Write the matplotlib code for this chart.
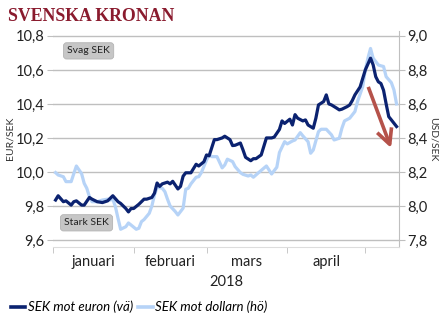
import matplotlib
matplotlib.use('Agg')

from datetime import datetime

import pandas as pd
import matplotlib.pyplot as plt
import matplotlib.dates as mdates
from matplotlib.patches import FancyArrowPatch
from matplotlib.ticker import FixedLocator, FuncFormatter

# SEK mot euron (vänster axel)
eur_dates = [
    '2018-01-02', '2018-01-03', '2018-01-05', '2018-01-06', '2018-01-08', '2018-01-09',
    '2018-01-10', '2018-01-12', '2018-01-13', '2018-01-15', '2018-01-16', '2018-01-18',
    '2018-01-20', '2018-01-22', '2018-01-24', '2018-01-26', '2018-01-27', '2018-01-29',
    '2018-01-30', '2018-01-31', '2018-02-01', '2018-02-03', '2018-02-05', '2018-02-06',
    '2018-02-08', '2018-02-09', '2018-02-10', '2018-02-11', '2018-02-12', '2018-02-14',
    '2018-02-15', '2018-02-16', '2018-02-18', '2018-02-19', '2018-02-20', '2018-02-21',
    '2018-02-23', '2018-02-24', '2018-02-25', '2018-02-26', '2018-02-28', '2018-03-01',
    '2018-03-02', '2018-03-04', '2018-03-05', '2018-03-07', '2018-03-08', '2018-03-10',
    '2018-03-11', '2018-03-12', '2018-03-14', '2018-03-15', '2018-03-16', '2018-03-18',
    '2018-03-19', '2018-03-20', '2018-03-22', '2018-03-23', '2018-03-24', '2018-03-26',
    '2018-03-27', '2018-03-29', '2018-03-30', '2018-03-31', '2018-04-02', '2018-04-03',
    '2018-04-04', '2018-04-05', '2018-04-07', '2018-04-08', '2018-04-09', '2018-04-11',
    '2018-04-12', '2018-04-13', '2018-04-15', '2018-04-16', '2018-04-17', '2018-04-18',
    '2018-04-20', '2018-04-21', '2018-04-22', '2018-04-24', '2018-04-25', '2018-04-26',
    '2018-04-27', '2018-04-29', '2018-04-30', '2018-05-01', '2018-05-03', '2018-05-04',
    '2018-05-05', '2018-05-06', '2018-05-07', '2018-05-08', '2018-05-09', '2018-05-10',
    '2018-05-11', '2018-05-13',
]
eur_sek = [
    9.835, 9.86, 9.825, 9.83, 9.805, 9.825,
    9.83, 9.805, 9.805, 9.85, 9.84, 9.825,
    9.82, 9.83, 9.86, 9.825, 9.815, 9.785,
    9.765, 9.785, 9.785, 9.81, 9.84, 9.84,
    9.85, 9.875, 9.935, 9.915, 9.93, 9.94,
    9.93, 9.945, 9.90, 9.915, 9.975, 9.995,
    9.995, 10.02, 10.045, 10.035, 10.06, 10.10,
    10.095, 10.19, 10.19, 10.20, 10.21, 10.19,
    10.155, 10.157, 10.17, 10.13, 10.086, 10.066,
    10.078, 10.078, 10.10, 10.15, 10.20, 10.20,
    10.205, 10.25, 10.30, 10.285, 10.31, 10.276,
    10.337, 10.316, 10.30, 10.306, 10.276, 10.257,
    10.316, 10.394, 10.414, 10.453, 10.40, 10.394,
    10.375, 10.365, 10.369, 10.384, 10.394, 10.42,
    10.453, 10.50, 10.55, 10.60, 10.669, 10.63,
    10.56, 10.53, 10.52, 10.48, 10.40, 10.325,
    10.306, 10.267,
]

# SEK mot dollarn (höger axel)
usd_dates = [
    '2018-01-02', '2018-01-03', '2018-01-05', '2018-01-06', '2018-01-08', '2018-01-09',
    '2018-01-10', '2018-01-12', '2018-01-13', '2018-01-14', '2018-01-15', '2018-01-16',
    '2018-01-18', '2018-01-20', '2018-01-22', '2018-01-23', '2018-01-24', '2018-01-25',
    '2018-01-26', '2018-01-27', '2018-01-29', '2018-01-30', '2018-01-31', '2018-02-02',
    '2018-02-03', '2018-02-04', '2018-02-05', '2018-02-07', '2018-02-08', '2018-02-09',
    '2018-02-10', '2018-02-12', '2018-02-13', '2018-02-14', '2018-02-15', '2018-02-17',
    '2018-02-18', '2018-02-20', '2018-02-21', '2018-02-22', '2018-02-23', '2018-02-25',
    '2018-02-26', '2018-02-27', '2018-03-01', '2018-03-02', '2018-03-03', '2018-03-05',
    '2018-03-07', '2018-03-08', '2018-03-09', '2018-03-11', '2018-03-12', '2018-03-14',
    '2018-03-15', '2018-03-17', '2018-03-18', '2018-03-19', '2018-03-21', '2018-03-23',
    '2018-03-24', '2018-03-26', '2018-03-28', '2018-03-29', '2018-03-31', '2018-04-01',
    '2018-04-03', '2018-04-04', '2018-04-06', '2018-04-07', '2018-04-09', '2018-04-10',
    '2018-04-11', '2018-04-13', '2018-04-14', '2018-04-16', '2018-04-18', '2018-04-19',
    '2018-04-21', '2018-04-22', '2018-04-23', '2018-04-25', '2018-04-27', '2018-04-28',
    '2018-04-30', '2018-05-01', '2018-05-02', '2018-05-03', '2018-05-04', '2018-05-06',
    '2018-05-07', '2018-05-08', '2018-05-09', '2018-05-11', '2018-05-12', '2018-05-13',
]
usd_sek = [
    8.196, 8.182, 8.172, 8.143, 8.143, 8.19,
    8.235, 8.19, 8.133, 8.104, 8.055, 8.025,
    8.025, 8.035, 8.04, 8.035, 8.04, 7.995,
    7.927, 7.863, 7.878, 7.90, 7.888, 7.863,
    7.869, 7.908, 7.92, 7.957, 8.00, 8.065,
    8.11, 8.104, 8.084, 8.04, 8.00, 7.967,
    7.947, 7.987, 8.098, 8.104, 8.13, 8.169,
    8.172, 8.196, 8.27, 8.30, 8.29, 8.29,
    8.224, 8.241, 8.275, 8.261, 8.231, 8.196,
    8.186, 8.176, 8.182, 8.169, 8.196, 8.222,
    8.235, 8.188, 8.228, 8.314, 8.378, 8.365,
    8.382, 8.388, 8.431, 8.412, 8.378, 8.31,
    8.329, 8.437, 8.451, 8.451, 8.418, 8.388,
    8.398, 8.457, 8.50, 8.516, 8.555, 8.614,
    8.702, 8.80, 8.869, 8.926, 8.869, 8.829,
    8.824, 8.82, 8.76, 8.725, 8.682, 8.60,
]

month_labels = ['januari', 'februari', 'mars', 'april']
month_starts = ['2018-01-01', '2018-02-01', '2018-03-01', '2018-04-01', '2018-05-01']
eur_ticks = [9.6, 9.8, 10.0, 10.2, 10.4, 10.6, 10.8]
usd_ticks = [7.8, 8.0, 8.2, 8.4, 8.6, 8.8, 9.0]

DARK = '#0B2270'
LIGHT = '#B6D3F7'
GRID = '#BFBFBF'
RED = '#B5524A'
TITLE = '#8A1B2E'
FONT = 'Lato'


def comma(v, _pos=None):
    return f'{v:.1f}'.replace('.', ',')


fig = plt.figure(figsize=(4.45, 3.27), dpi=100, facecolor='white')
ax = fig.add_axes([0.119, 0.2453, 0.778, 0.6606])
ax2 = ax.twinx()

# höger axel bär rutnätet, vänster axel ritas ovanpå
ax.set_zorder(ax2.get_zorder() + 1)
ax.patch.set_visible(False)

ax2.plot(pd.to_datetime(usd_dates), usd_sek, color=LIGHT, lw=2.3,
         solid_joinstyle='round', zorder=3)
ax.plot(pd.to_datetime(eur_dates), eur_sek, color=DARK, lw=2.3,
        solid_joinstyle='round', zorder=3)

x0, x1 = datetime(2018, 1, 1), datetime(2018, 5, 14)
ax.set_xlim(x0, x1)
ax.set_ylim(9.56, 10.83)
ax2.set_ylim(7.76, 9.03)

ax.yaxis.set_major_locator(FixedLocator(eur_ticks))
ax.yaxis.set_major_formatter(FuncFormatter(comma))
ax2.yaxis.set_major_locator(FixedLocator(usd_ticks))
ax2.yaxis.set_major_formatter(FuncFormatter(comma))
ax2.grid(axis='y', color=GRID, lw=1.0, zorder=0)
ax2.set_axisbelow(True)

# månadsgränser som små streck, namnen mitt i månaden
starts = pd.to_datetime(month_starts)
mids = [s + (e - s) / 2 for s, e in zip(starts[:-1], starts[1:])]
ax.set_xticks(mdates.date2num(mids))
ax.set_xticklabels(month_labels)
ax.set_xticks(mdates.date2num(starts), minor=True)
ax.tick_params(axis='x', which='major', length=0, pad=6)
ax.tick_params(axis='x', which='minor', length=4, color=GRID, direction='out')

for a in (ax, ax2):
    for side in ('top', 'left', 'bottom', 'right'):
        a.spines[side].set_visible(False)
    a.tick_params(axis='y', length=4, color=GRID, labelsize=10.5, pad=2,
                  labelcolor='#222222')
    for lbl in a.get_yticklabels():
        lbl.set_fontfamily(FONT)
ax2.spines['right'].set_visible(True)
ax2.spines['right'].set_color(GRID)
ax.spines['bottom'].set_visible(True)
ax.spines['bottom'].set_color('#DDDDDD')
for lbl in ax.get_xticklabels():
    lbl.set_fontfamily(FONT)
    lbl.set_fontsize(10.5)
    lbl.set_color('#222222')

ax.set_ylabel('EUR/SEK', fontsize=7.5, family=FONT, color='#333333', labelpad=1)
ax2.set_ylabel('USD/SEK', fontsize=7.5, family=FONT, color='#333333',
               rotation=270, labelpad=7)
ax.set_xlabel('2018', fontsize=10.5, family=FONT, color='#222222', labelpad=4)

# svag / stark krona
box = dict(boxstyle='round,pad=0.35,rounding_size=0.3', fc='#C6C6C6', ec='#B4B4B4', lw=0.6)
ax.text(0.103, 0.907, 'Svag SEK', transform=ax.transAxes, ha='center', va='center',
        fontsize=7.5, family=FONT, color='#222222', bbox=box)
ax.text(0.097, 0.111, 'Stark SEK', transform=ax.transAxes, ha='center', va='center',
        fontsize=7.5, family=FONT, color='#222222', bbox=box)

# pil som visar den senaste förstärkningen
arrow = FancyArrowPatch((mdates.date2num(datetime(2018, 5, 2, 3)), 10.50),
                        (mdates.date2num(datetime(2018, 5, 10, 22)), 10.14),
                        arrowstyle='->,head_length=11,head_width=5.5',
                        mutation_scale=1, lw=2.6, color=RED,
                        shrinkA=0, shrinkB=0, zorder=5, capstyle='butt')
ax.add_patch(arrow)

fig.text(0.018, 0.951, 'SVENSKA KRONAN', fontsize=12.8, fontweight='bold',
         family='Liberation Serif', color=TITLE, ha='left', va='center')

handles = [plt.Line2D([], [], color=DARK, lw=2.6),
           plt.Line2D([], [], color=LIGHT, lw=2.6)]
fig.legend(handles, ['SEK mot euron (vä)', 'SEK mot dollarn (hö)'],
           loc='center left', bbox_to_anchor=(0.012, 0.061), ncol=2, frameon=False,
           handlelength=1.1, handletextpad=0.2, columnspacing=0.4, borderaxespad=0,
           prop={'family': FONT, 'style': 'italic', 'size': 9.5})

fig.savefig('out.png', dpi=100, facecolor='white')
